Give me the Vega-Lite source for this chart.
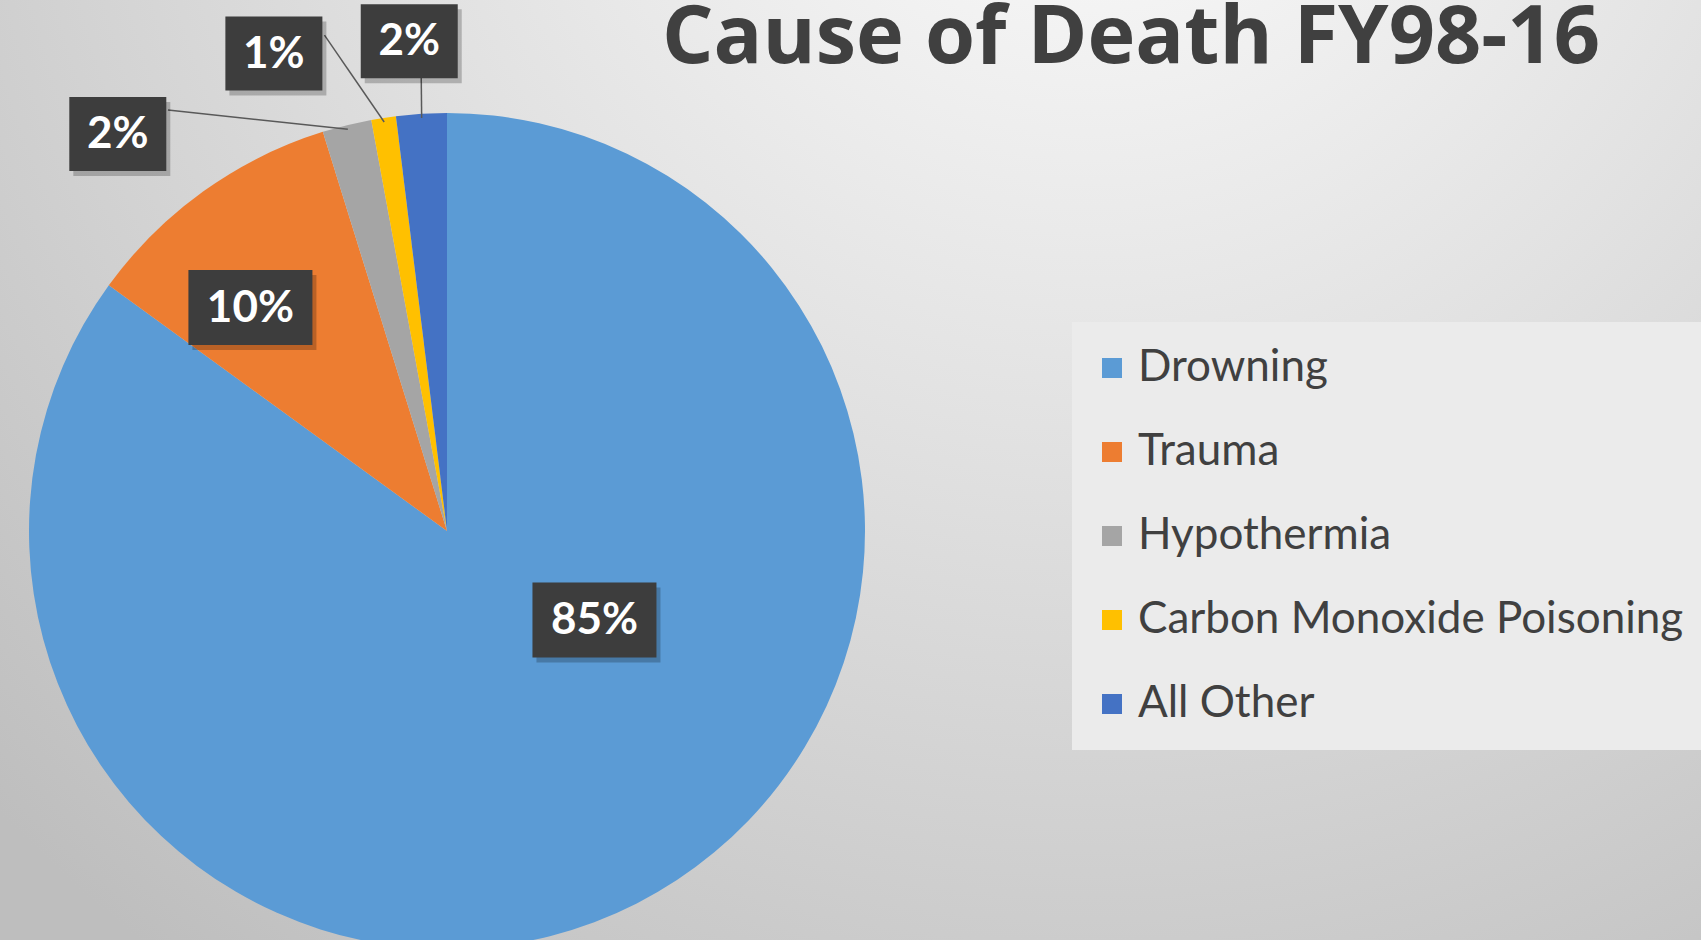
{
  "$schema": "https://vega.github.io/schema/vega-lite/v6.json",
  "width": 1701,
  "height": 940,
  "autosize": "none",
  "padding": 0,
  "background": "#d6d6d6",
  "config": {
    "font": "Lato",
    "view": {
      "stroke": null,
      "fill": {"gradient": "radial", "x1": 0.64, "y1": 0.07, "x2": 0.64, "y2": 0.07, "r1": 0, "r2": 0.9,
        "stops": [{"offset": 0, "color": "#fefefe"}, {"offset": 0.45, "color": "#e2e2e2"}, {"offset": 1, "color": "#bebebe"}]}
    },
    "legend": {
      "orient": "none",
      "legendX": 1072,
      "legendY": 322,
      "padding": 24,
      "fillColor": "#ebebeb",
      "strokeColor": null,
      "labelFont": "Lato",
      "labelFontSize": 44,
      "labelColor": "#404040",
      "labelLimit": 0,
      "symbolType": "square",
      "symbolSize": 400,
      "symbolStrokeWidth": 0,
      "symbolOffset": -6,
      "rowPadding": 40,
      "labelOffset": 4
    }
  },
  "title": {
    "text": "Cause of Death FY98-16",
    "anchor": "start",
    "frame": "group",
    "dx": 662,
    "offset": -80,
    "font": "Open Sans",
    "fontSize": 81,
    "fontWeight": "bold",
    "color": "#404040"
  },
  "data": {
    "values": [
      {"cause": "Drowning", "value": 85.0},
      {"cause": "Trauma", "value": 10.2},
      {"cause": "Hypothermia", "value": 1.9},
      {"cause": "Carbon Monoxide Poisoning", "value": 0.95},
      {"cause": "All Other", "value": 1.95}
    ]
  },
  "transform": [
    {"window": [{"op": "row_number", "as": "idx"}]},
    {"joinaggregate": [{"op": "sum", "field": "value", "as": "total"}]},
    {"stack": "value", "groupby": [], "sort": [{"field": "idx", "order": "ascending"}], "as": ["v0", "v1"]},
    {"calculate": "datum.v0/datum.total", "as": "p0"},
    {"calculate": "datum.v1/datum.total", "as": "p1"},
    {"calculate": "datum.value/datum.total", "as": "share"},
    {"calculate": "PI*(datum.v0+datum.v1)/datum.total", "as": "mid"},
    {"calculate": "[-31.9, -5.7, -25.8, -11.2, -0.9][datum.idx-1]*PI/180", "as": "dAng"},
    {"calculate": "[0.412, 0.712, 1.234, 1.215, 1.175][datum.idx-1]", "as": "lr"},
    {"calculate": "datum.lr*sin(datum.mid+datum.dAng)", "as": "lx"},
    {"calculate": "datum.lr*cos(datum.mid+datum.dAng)", "as": "ly"},
    {"calculate": "datum.lx+[0, 0, 0.120, 0.121, 0.0287][datum.idx-1]", "as": "ax"},
    {"calculate": "datum.ly+[0, 0, 0.057, 0.044, -0.0873][datum.idx-1]", "as": "ay"},
    {"calculate": "0.99*sin(datum.mid)", "as": "ex"},
    {"calculate": "0.99*cos(datum.mid)", "as": "ey"}
  ],
  "layer": [
    {
      "mark": {"type": "arc", "outerRadius": 418},
      "encoding": {
        "x": {"datum": 0, "type": "quantitative", "scale": {"domain": [-1.06938, 3.0], "nice": false, "zero": false}, "axis": null},
        "y": {"datum": 0, "type": "quantitative", "scale": {"domain": [-0.97847, 1.27033], "nice": false, "zero": false}, "axis": null},
        "theta": {"field": "p0", "type": "quantitative", "scale": {"domain": [0, 1]}},
        "theta2": {"field": "p1"},
        "color": {
          "field": "cause",
          "type": "nominal",
          "scale": {
            "domain": ["Drowning", "Trauma", "Hypothermia", "Carbon Monoxide Poisoning", "All Other"],
            "range": ["#5B9BD5", "#ED7D31", "#A5A5A5", "#FFC000", "#4472C4"]
          },
          "legend": {"title": null}
        }
      }
    },
    {
      "transform": [{"filter": "datum.share < 0.05"}],
      "mark": {"type": "rule", "color": "#595959", "strokeWidth": 1.5},
      "encoding": {
        "x": {"field": "ax", "type": "quantitative", "scale": {"domain": [-1.06938, 3.0], "nice": false, "zero": false}, "axis": null},
        "y": {"field": "ay", "type": "quantitative", "scale": {"domain": [-0.97847, 1.27033], "nice": false, "zero": false}, "axis": null},
        "x2": {"field": "ex"},
        "y2": {"field": "ey"}
      }
    },
    {
      "mark": {"type": "point", "filled": true, "color": "#000000", "opacity": 0.22, "strokeWidth": 0, "xOffset": 4, "yOffset": 5},
      "encoding": {
        "x": {"field": "lx", "type": "quantitative", "scale": {"domain": [-1.06938, 3.0], "nice": false, "zero": false}, "axis": null},
        "y": {"field": "ly", "type": "quantitative", "scale": {"domain": [-0.97847, 1.27033], "nice": false, "zero": false}, "axis": null},
        "shape": {"condition": {"test": "datum.share >= 0.095", "value": "M-1,-0.605H1V0.605H-1Z"}, "value": "M-1,-0.763H1V0.763H-1Z"},
        "size": {"condition": {"test": "datum.share >= 0.095", "value": 15376}, "value": 9409}
      }
    },
    {
      "mark": {"type": "point", "filled": true, "color": "#3d3d3d", "opacity": 1, "strokeWidth": 0},
      "encoding": {
        "x": {"field": "lx", "type": "quantitative", "scale": {"domain": [-1.06938, 3.0], "nice": false, "zero": false}, "axis": null},
        "y": {"field": "ly", "type": "quantitative", "scale": {"domain": [-0.97847, 1.27033], "nice": false, "zero": false}, "axis": null},
        "shape": {"condition": {"test": "datum.share >= 0.095", "value": "M-1,-0.605H1V0.605H-1Z"}, "value": "M-1,-0.763H1V0.763H-1Z"},
        "size": {"condition": {"test": "datum.share >= 0.095", "value": 15376}, "value": 9409}
      }
    },
    {
      "mark": {"type": "text", "color": "#ffffff", "font": "Lato", "fontWeight": "bold", "fontSize": 44, "align": "center", "baseline": "middle", "dy": 1},
      "encoding": {
        "x": {"field": "lx", "type": "quantitative", "scale": {"domain": [-1.06938, 3.0], "nice": false, "zero": false}, "axis": null},
        "y": {"field": "ly", "type": "quantitative", "scale": {"domain": [-0.97847, 1.27033], "nice": false, "zero": false}, "axis": null},
        "text": {"field": "share", "type": "quantitative", "format": ".0%"}
      }
    }
  ]
}
